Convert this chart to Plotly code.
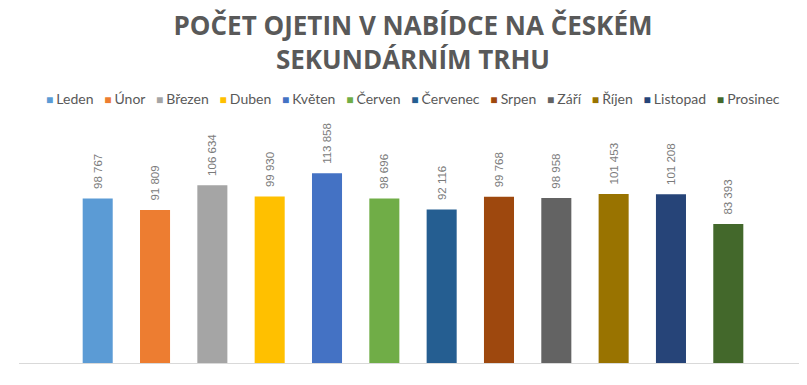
import plotly.graph_objects as go

# ---- data ----
months = ["Leden", "Únor", "Březen", "Duben", "Květen", "Červen",
          "Červenec", "Srpen", "Září", "Říjen", "Listopad", "Prosinec"]
values = [98767, 91809, 106634, 99930, 113858, 98696,
          92116, 99768, 98958, 101453, 101208, 83393]
colors = ["#5B9BD5", "#ED7D31", "#A5A5A5", "#FFC000", "#4472C4", "#70AD47",
          "#255E91", "#9E480E", "#636363", "#997300", "#264478", "#43682B"]
category = [""]
title_lines = ["POČET OJETIN V NABÍDCE NA ČESKÉM", "SEKUNDÁRNÍM TRHU"]


def fmt(v):
    return f"{v:,}".replace(",", " ")


fig = go.Figure()
for m, v, c in zip(months, values, colors):
    fig.add_trace(go.Bar(
        x=category, y=[v], name=m,
        marker=dict(color=c, line=dict(width=0)),
        text=["\u00a0\u00a0" + fmt(v)],
        textposition="outside", textangle=-90,
        textfont=dict(family="Liberation Sans, Arial, sans-serif", size=11.5, color="#7a7a7a"),
        constraintext="none", cliponaxis=False,
        hoverinfo="skip",
    ))

# legend line (single centred text built from the series names and colours)
legend_text = "\u00a0\u00a0\u00a0".join(
    f"<span style='color:{c};font-size:12px'>■\u00a0</span>{m}" for m, c in zip(months, colors)
)

W, H = 799, 377  # page body has an 8px margin in the viewer
fig.update_layout(
    width=W, height=H,
    margin=dict(l=11, r=0, t=155, b=22, pad=0),
    paper_bgcolor="white", plot_bgcolor="white",
    barmode="group", bargap=0.127, bargroupgap=0.476,
    showlegend=False,
    title=dict(
        text="<br>".join(title_lines),
        font=dict(family="Open Sans, sans-serif", size=26, color="#595959", weight=700),
        x=0.5, xref="paper", xanchor="center",
        y=1 - 27 / H, yref="container", yanchor="top",
    ),
    xaxis=dict(showticklabels=False, showgrid=False, zeroline=False,
               showline=True, linecolor="#D9D9D9", linewidth=1, ticks=""),
    yaxis=dict(range=[0, 120000], visible=False, showgrid=False, zeroline=False),
    annotations=[dict(
        text=legend_text, xref="paper", yref="paper", x=0.5, y=1.325,
        xanchor="center", yanchor="middle", showarrow=False,
        font=dict(family="Lato, sans-serif", size=14, color="#595959"),
    )],
)

fig.write_html("out.html")
